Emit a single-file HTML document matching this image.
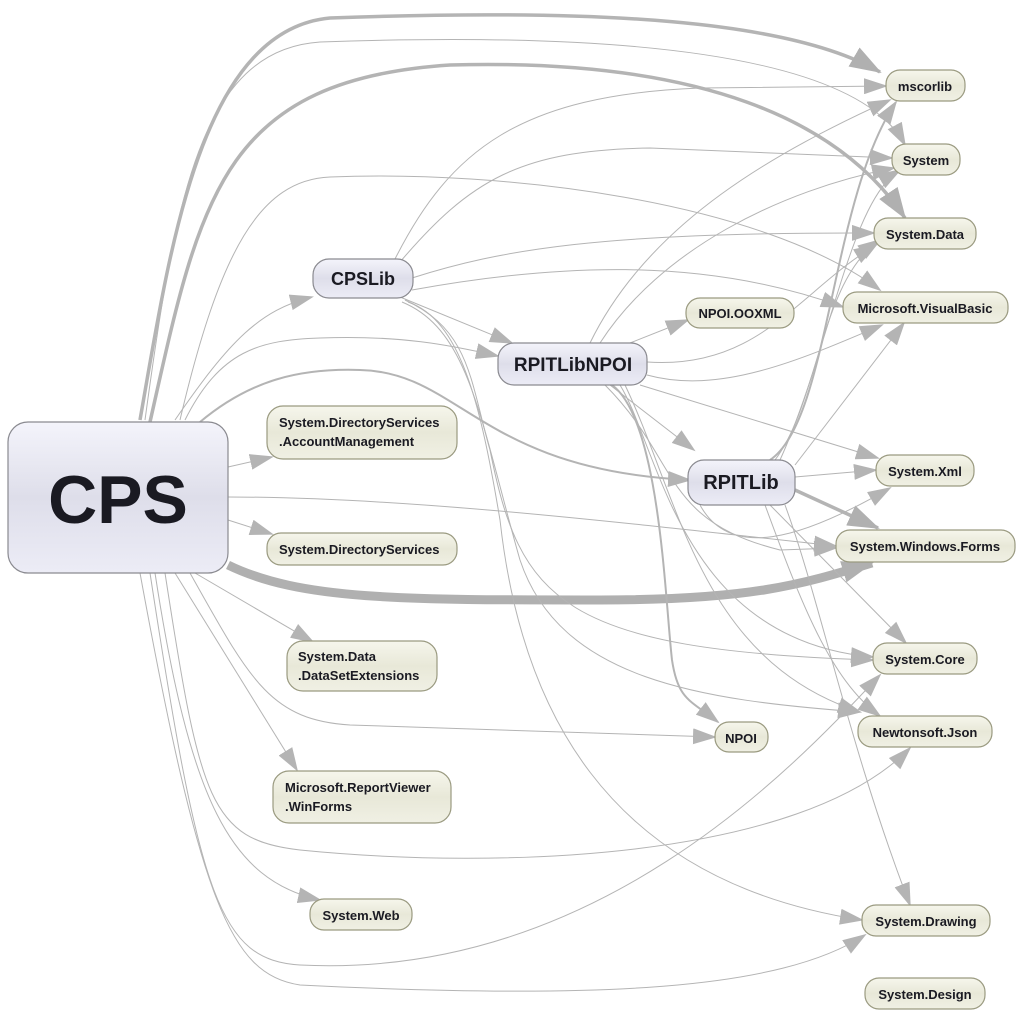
<!DOCTYPE html>
<html><head><meta charset="utf-8"><style>
html,body{margin:0;padding:0;background:#fff;}
svg{display:block;}
text{font-family:"Liberation Sans",sans-serif;font-weight:bold;fill:#1a1a22;}
.e{fill:none;stroke:#b4b4b4;stroke-width:1;}
.m{fill:none;stroke:#b4b4b4;stroke-width:2;}
.t{fill:none;stroke:#b4b4b4;stroke-width:3.5;}
.x{fill:none;stroke:#b0b0b0;stroke-width:9;}
</style></head><body>
<svg width="1024" height="1016" viewBox="0 0 1024 1016" xmlns="http://www.w3.org/2000/svg">
<defs>
<marker id="a" markerUnits="userSpaceOnUse" markerWidth="24" markerHeight="16" refX="22" refY="8" orient="auto"><path d="M0,0 L24,8 L0,16 Z" fill="#b4b4b4"/></marker>
<marker id="b" markerUnits="userSpaceOnUse" markerWidth="32" markerHeight="22" refX="30" refY="11" orient="auto"><path d="M0,0 L32,11 L0,22 Z" fill="#b0b0b0"/></marker>
<linearGradient id="gp" x1="0" y1="0" x2="0" y2="1"><stop offset="0" stop-color="#f4f4fb"/><stop offset="0.5" stop-color="#dedeea"/><stop offset="1" stop-color="#ececf6"/></linearGradient>
<linearGradient id="gy" x1="0" y1="0" x2="0" y2="1"><stop offset="0" stop-color="#f6f6ec"/><stop offset="0.5" stop-color="#e8e8d8"/><stop offset="1" stop-color="#f0f0e4"/></linearGradient>
</defs>
<g>
<!-- CPS edges -->
<path class="t" marker-end="url(#b)" d="M140,420 C170,250 200,30 330,18 C600,8 790,20 880,72"/>
<path class="e" marker-end="url(#a)" d="M145,420 C175,200 200,50 320,42 C650,30 860,60 905,145"/>
<path class="t" marker-end="url(#b)" d="M150,422 C200,200 220,80 450,65 C700,58 840,120 905,218"/>
<path class="e" marker-end="url(#a)" d="M180,420 C220,250 260,180 330,177 C500,170 760,200 880,290"/>
<path class="e" marker-end="url(#a)" d="M175,420 C230,340 260,310 312,297"/>
<path class="e" marker-end="url(#a)" d="M185,420 C220,350 260,340 320,338 C400,335 450,345 498,356"/>
<path class="m" marker-end="url(#a)" d="M200,422 C250,380 300,368 360,370 C460,372 480,470 690,480"/>
<path class="e" marker-end="url(#a)" d="M228,467 L272,457"/>
<path class="e" marker-end="url(#a)" d="M228,520 L272,534"/>
<path class="e" marker-end="url(#a)" d="M228,497 C400,497 600,520 836,546"/>
<path class="x" marker-end="url(#b)" d="M228,565 C300,600 400,600 600,600 C750,600 800,585 872,563"/>
<path class="e" marker-end="url(#a)" d="M195,573 L313,642"/>
<path class="e" marker-end="url(#a)" d="M190,573 C250,680 270,720 350,725 L715,737"/>
<path class="e" marker-end="url(#a)" d="M175,573 L297,770"/>
<path class="e" marker-end="url(#a)" d="M165,573 C200,800 210,840 300,850 C500,870 800,860 910,748"/>
<path class="e" marker-end="url(#a)" d="M155,573 C190,800 230,880 320,900"/>
<path class="e" marker-end="url(#a)" d="M150,573 C200,900 220,960 300,965 C600,980 800,760 880,675"/>
<path class="e" marker-end="url(#a)" d="M140,573 C200,900 230,975 300,985 C600,1000 780,990 865,935"/>
<!-- CPSLib edges -->
<path class="e" marker-end="url(#a)" d="M395,259 C450,150 520,95 700,88 L886,86"/>
<path class="e" marker-end="url(#a)" d="M400,262 C470,180 520,150 650,148 L892,158"/>
<path class="e" marker-end="url(#a)" d="M412,278 C500,250 600,232 874,233"/>
<path class="e" marker-end="url(#a)" d="M412,290 C550,265 700,255 843,307"/>
<path class="e" marker-end="url(#a)" d="M400,297 L512,343"/>
<path class="e" marker-end="url(#a)" d="M405,300 C470,330 470,380 490,450 C520,600 560,650 873,660"/>
<path class="e" marker-end="url(#a)" d="M408,302 C460,320 480,400 500,520 C520,700 600,880 862,920"/>
<path class="e" marker-end="url(#a)" d="M402,302 C470,330 480,420 520,560 C560,680 700,700 860,712"/>
<!-- RPITLibNPOI edges -->
<path class="e" marker-end="url(#a)" d="M630,343 L688,320"/>
<path class="e" marker-end="url(#a)" d="M590,343 C650,220 780,150 890,100"/>
<path class="e" marker-end="url(#a)" d="M600,343 C660,250 780,190 894,168"/>
<path class="e" marker-end="url(#a)" d="M647,362 C760,370 800,290 876,245"/>
<path class="e" marker-end="url(#a)" d="M647,375 C720,395 800,360 882,325"/>
<path class="e" marker-end="url(#a)" d="M610,385 L694,450"/>
<path class="m" marker-end="url(#a)" d="M612,385 C660,420 665,600 672,660 C678,700 690,700 718,722"/>
<path class="e" marker-end="url(#a)" d="M640,385 L878,458"/>
<path class="e" marker-end="url(#a)" d="M620,385 C660,450 680,640 873,657"/>
<path class="e" marker-end="url(#a)" d="M625,385 C680,500 700,660 860,712"/>
<path class="e" marker-end="url(#a)" d="M605,385 C680,460 660,520 780,550 L836,548"/>
<!-- RPITLib edges -->
<path class="m" marker-end="url(#a)" d="M770,460 C830,420 830,200 896,102"/>
<path class="e" marker-end="url(#a)" d="M775,460 C820,400 820,280 880,240"/>
<path class="e" marker-end="url(#a)" d="M780,460 C830,350 850,200 900,170"/>
<path class="e" marker-end="url(#a)" d="M795,465 L904,323"/>
<path class="e" marker-end="url(#a)" d="M795,477 L876,470"/>
<path class="t" marker-end="url(#b)" d="M795,490 L878,528"/>
<path class="e" marker-end="url(#a)" d="M770,505 L906,643"/>
<path class="e" marker-end="url(#a)" d="M765,505 C800,600 830,680 880,716"/>
<path class="e" marker-end="url(#a)" d="M785,505 C820,600 850,750 910,905"/>
<path class="e" marker-end="url(#a)" d="M700,505 C730,560 800,540 890,488"/>
</g>
<!-- nodes -->
<g stroke="#8a8a90" stroke-width="1.2">
<rect x="8" y="422" width="220" height="151" rx="20" fill="url(#gp)"/>
<rect x="313" y="259" width="100" height="39" rx="16" fill="url(#gp)"/>
<rect x="498" y="343" width="149" height="42" rx="16" fill="url(#gp)"/>
<rect x="688" y="460" width="107" height="45" rx="16" fill="url(#gp)"/>
</g>
<g stroke="#9a9a80" stroke-width="1.2" fill="url(#gy)">
<rect x="886" y="70" width="79" height="31" rx="14"/>
<rect x="892" y="144" width="68" height="31" rx="14"/>
<rect x="874" y="218" width="102" height="31" rx="14"/>
<rect x="843" y="292" width="165" height="31" rx="14"/>
<rect x="686" y="298" width="108" height="30" rx="14"/>
<rect x="876" y="455" width="98" height="31" rx="14"/>
<rect x="836" y="530" width="179" height="32" rx="14"/>
<rect x="873" y="643" width="104" height="31" rx="14"/>
<rect x="858" y="716" width="134" height="31" rx="14"/>
<rect x="715" y="722" width="53" height="30" rx="14"/>
<rect x="862" y="905" width="128" height="31" rx="14"/>
<rect x="865" y="978" width="120" height="31" rx="14"/>
<rect x="267" y="406" width="190" height="53" rx="16"/>
<rect x="267" y="533" width="190" height="32" rx="14"/>
<rect x="287" y="641" width="150" height="50" rx="16"/>
<rect x="273" y="771" width="178" height="52" rx="16"/>
<rect x="310" y="899" width="102" height="31" rx="14"/>
</g>
<text x="118" y="523" font-size="68" text-anchor="middle">CPS</text>
<text x="363" y="285" font-size="18" text-anchor="middle">CPSLib</text>
<text x="573" y="371" font-size="19" text-anchor="middle">RPITLibNPOI</text>
<text x="741" y="489" font-size="20" text-anchor="middle">RPITLib</text>
<g font-size="13">
<text x="925" y="91" text-anchor="middle" font-size="13">mscorlib</text>
<text x="926" y="165" text-anchor="middle" font-size="13">System</text>
<text x="925" y="239" text-anchor="middle" font-size="13">System.Data</text>
<text x="925" y="313" text-anchor="middle" font-size="13">Microsoft.VisualBasic</text>
<text x="740" y="318" text-anchor="middle" font-size="13">NPOI.OOXML</text>
<text x="925" y="476" text-anchor="middle" font-size="13">System.Xml</text>
<text x="925" y="551" text-anchor="middle" font-size="13">System.Windows.Forms</text>
<text x="925" y="664" text-anchor="middle" font-size="13">System.Core</text>
<text x="925" y="737" text-anchor="middle" font-size="13">Newtonsoft.Json</text>
<text x="741" y="743" text-anchor="middle" font-size="13">NPOI</text>
<text x="926" y="926" text-anchor="middle" font-size="13">System.Drawing</text>
<text x="925" y="999" text-anchor="middle" font-size="13">System.Design</text>
<text x="279" y="427" font-size="13">System.DirectoryServices</text>
<text x="279" y="446" font-size="13">.AccountManagement</text>
<text x="279" y="554" font-size="13">System.DirectoryServices</text>
<text x="298" y="661" font-size="13">System.Data</text>
<text x="298" y="680" font-size="13">.DataSetExtensions</text>
<text x="285" y="792" font-size="13">Microsoft.ReportViewer</text>
<text x="285" y="811" font-size="13">.WinForms</text>
<text x="361" y="920" text-anchor="middle" font-size="13">System.Web</text>
</g>
</svg>
</body></html>
